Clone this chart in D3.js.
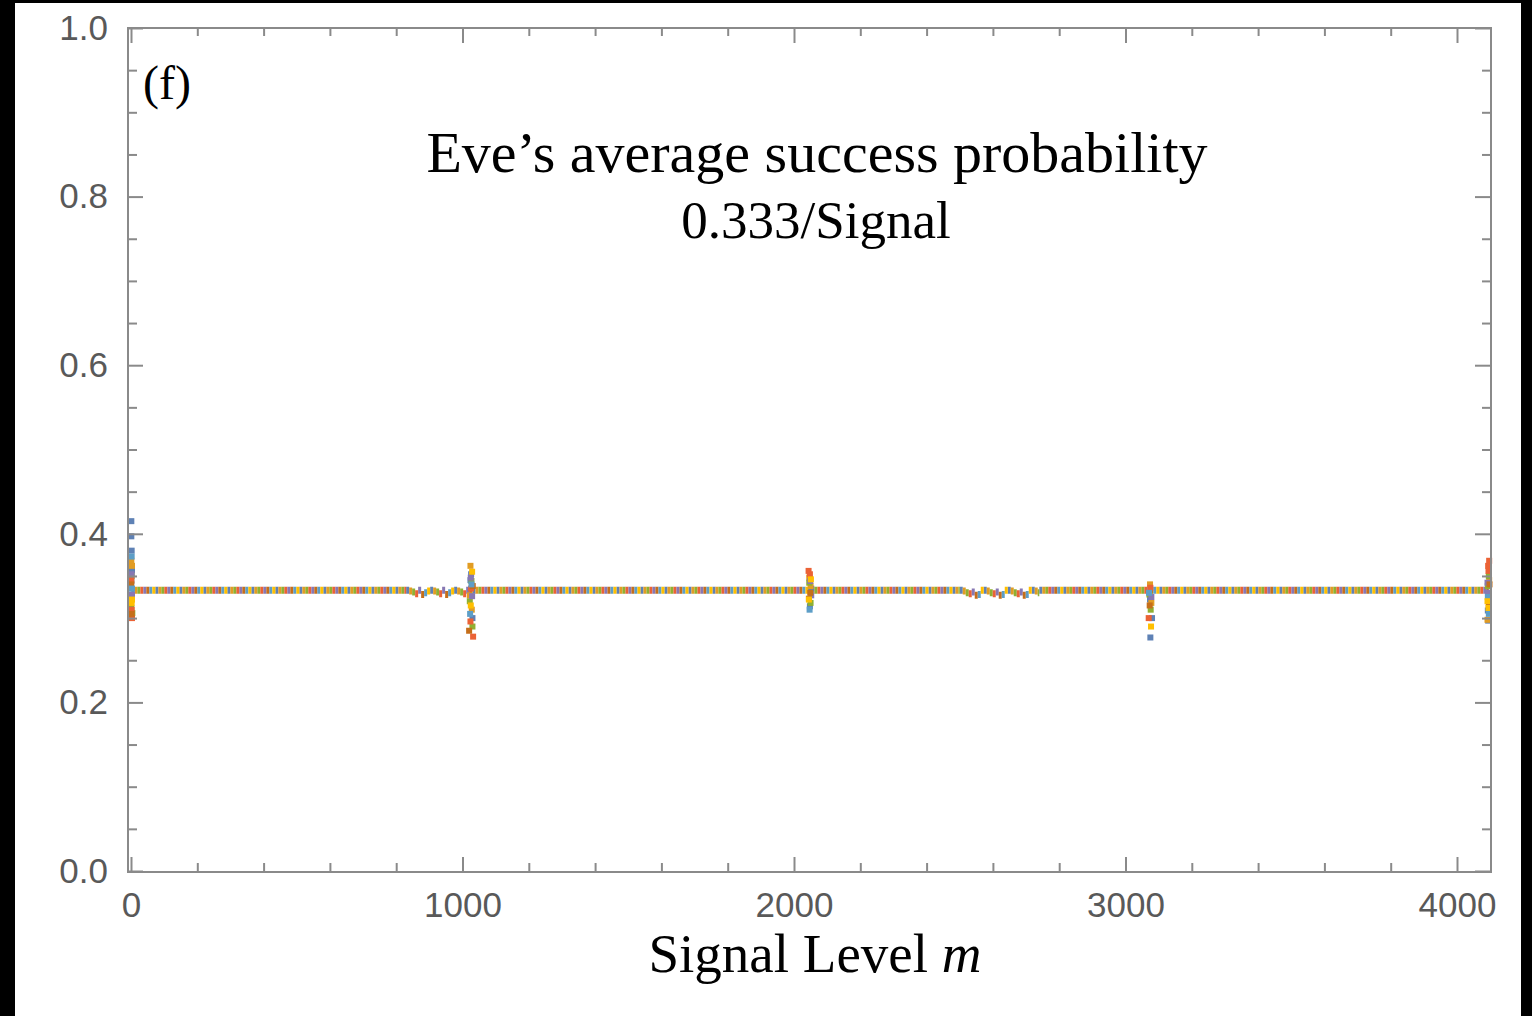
<!DOCTYPE html>
<html lang="en">
<head>
    <meta charset="UTF-8">
    <title>Eve success probability</title>
    <script src="https://d3js.org/d3.v7.min.js"></script>
    <style>
        * {
            padding: 0;
            margin: 0;
        }

        body {
            background: #000;
            width: 1532px;
            height: 1016px;
            overflow: hidden;
        }

        .serif {
            font-family: "Liberation Serif", "Times New Roman", serif;
            fill: #000;
        }

        .tick text {
            font-family: "Liberation Sans", Arial, sans-serif;
            font-size: 35px;
            fill: #595959;
        }

        .tick line {
            stroke: #8a8a8a;
            stroke-width: 2;
        }
    </style>
</head>

<body>
    <div class="context"></div>
    <script>
        // x ticks (signal level m) and y ticks (probability)
        const xMajor = [0, 1000, 2000, 3000, 4000];
        const xMinor = [200, 400, 600, 800, 1200, 1400, 1600, 1800, 2200, 2400, 2600, 2800, 3200, 3400, 3600, 3800];
        const yMajor = [0.0, 0.2, 0.4, 0.6, 0.8, 1.0];
        const yMinor = [0.05, 0.1, 0.15, 0.25, 0.3, 0.35, 0.45, 0.5, 0.55, 0.65, 0.7, 0.75, 0.85, 0.9, 0.95];

        // flat stretches of the curves: [from m, to m]
        const runs = [[1, 830], [830, 1030], [1030, 2500], [2500, 2740], [2740, 4096]];
        // value of each series on each stretch
        const runValues = [
            [0.333, 0.333, 0.333, 0.333, 0.333],
            [0.333, 0.332, 0.333, 0.332, 0.333],
            [0.333, 0.331, 0.333, 0.330, 0.333],
            [0.333, 0.329, 0.333, 0.329, 0.333],
            [0.333, 0.333, 0.333, 0.331, 0.333],
            [0.333, 0.328, 0.333, 0.327, 0.333],
            [0.333, 0.330, 0.333, 0.328, 0.333],
            [0.333, 0.332, 0.333, 0.333, 0.333]
        ];
        // scattered points near m = 0, 1024, 2048, 3072, 4096: [m, p]
        const spikes = [
            [[1, 0.415], [1, 0.397], [2, 0.380], [3, 0.357], [1, 0.344], [1024, 0.345], [1030, 0.300], [1026, 0.352], [2052, 0.335], [2048, 0.314], [3075, 0.277], [3080, 0.300], [3074, 0.322], [4093, 0.309], [4094, 0.297], [4095, 0.330]],
            [[3, 0.362], [2, 0.325], [1, 0.368], [1024, 0.362], [1028, 0.310], [1022, 0.327], [2046, 0.348], [2050, 0.338], [3074, 0.340], [3078, 0.318], [4095, 0.320], [4092, 0.298], [4097, 0.345]],
            [[2, 0.350], [4, 0.306], [1, 0.312], [1022, 0.320], [1030, 0.290], [1027, 0.344], [2050, 0.318], [2046, 0.342], [3076, 0.310], [3072, 0.328], [4096, 0.350], [4093, 0.338]],
            [[1, 0.345], [3, 0.300], [2, 0.310], [1026, 0.335], [1032, 0.278], [1024, 0.296], [2044, 0.356], [2048, 0.352], [3070, 0.300], [3075, 0.336], [4097, 0.368], [4095, 0.356], [4094, 0.362]],
            [[2, 0.352], [3, 0.328], [1025, 0.348], [1029, 0.326], [2052, 0.327], [2049, 0.344], [3078, 0.325], [4094, 0.330], [4092, 0.342]],
            [[1, 0.340], [2, 0.305], [1020, 0.285], [1031, 0.338], [2049, 0.330], [2045, 0.323], [3073, 0.315], [4098, 0.340], [4096, 0.316]],
            [[3, 0.335], [2, 0.373], [1027, 0.340], [1023, 0.305], [2047, 0.310], [3071, 0.330], [4093, 0.325], [4096, 0.305]],
            [[2, 0.318], [3, 0.322], [1029, 0.355], [1025, 0.315], [2045, 0.322], [2051, 0.346], [3077, 0.290], [4092, 0.320], [4095, 0.312]]
        ];
        const colors = ["#5E81B5", "#E19C24", "#8FB032", "#EB6235", "#8778B3", "#C56E1A", "#5D9EC7", "#FFBF00"];

        const W = 1532, H = 1016;
        const pLeft = 128, pRight = 1491, pTop = 28, pBottom = 872;

        const svg = d3.select(".context").append("svg")
            .attr("width", W)
            .attr("height", H);

        svg.append("rect")
            .attr("x", 15).attr("y", 3)
            .attr("width", 1506).attr("height", H - 3)
            .attr("fill", "#fff");

        const x = d3.scaleLinear().domain([0, 4000]).range([131, 1457]);
        const y = d3.scaleLinear().domain([0, 1]).range([871, 28]);

        // flat stretches, drawn as dashed bands so the colours interleave
        const n = colors.length, dash = 3;
        const segs = [];
        runValues.forEach((vals, s) => {
            runs.forEach((r, k) => segs.push({ s: s, m0: r[0], m1: r[1], v: vals[k] }));
        });
        svg.append("g").selectAll("line").data(segs).enter().append("line")
            .attr("x1", d => x(d.m0))
            .attr("x2", d => x(d.m1))
            .attr("y1", d => y(d.v))
            .attr("y2", d => y(d.v))
            .attr("stroke", d => colors[d.s])
            .attr("stroke-width", 7)
            .attr("stroke-dasharray", dash + " " + (dash * (n - 1)))
            .attr("stroke-dashoffset", d => -d.s * dash);

        // scattered points
        const pts = [];
        spikes.forEach((list, s) => list.forEach(p => pts.push({ s: s, m: p[0], v: p[1] })));
        svg.append("g").selectAll("rect").data(pts).enter().append("rect")
            .attr("x", d => x(d.m) - 3)
            .attr("y", d => y(d.v) - 3)
            .attr("width", 6)
            .attr("height", 6)
            .attr("fill", d => colors[d.s]);

        // frame
        svg.append("rect")
            .attr("x", pLeft).attr("y", pTop)
            .attr("width", pRight - pLeft).attr("height", pBottom - pTop)
            .attr("fill", "none")
            .attr("stroke", "#8a8a8a")
            .attr("stroke-width", 2);

        function axis(gen, vals, size, fmt, tx, ty) {
            const g = svg.append("g")
                .attr("transform", "translate(" + tx + "," + ty + ")")
                .call(gen.tickValues(vals).tickSizeInner(size).tickSizeOuter(0).tickPadding(20).tickFormat(fmt));
            g.select(".domain").remove();
            return g;
        }
        const none = () => "";
        axis(d3.axisBottom(x), xMajor, -15, d3.format("d"), 0, pBottom);
        axis(d3.axisBottom(x), xMinor, -9, none, 0, pBottom);
        axis(d3.axisTop(x), xMajor, -15, none, 0, pTop);
        axis(d3.axisTop(x), xMinor, -8, none, 0, pTop);
        axis(d3.axisLeft(y), yMajor, -15, d3.format(".1f"), pLeft, 0);
        axis(d3.axisLeft(y), yMinor, -9, none, pLeft, 0);
        axis(d3.axisRight(y), yMajor, -16, none, pRight, 0);
        axis(d3.axisRight(y), yMinor, -9, none, pRight, 0);

        // texts
        svg.append("text").attr("class", "serif")
            .attr("x", 143).attr("y", 99)
            .attr("font-size", 48)
            .text("(f)");

        svg.append("text").attr("class", "serif")
            .attr("x", 817).attr("y", 172)
            .attr("text-anchor", "middle")
            .attr("font-size", 58)
            .text("Eve\u2019s average success probability");

        svg.append("text").attr("class", "serif")
            .attr("x", 816).attr("y", 238)
            .attr("text-anchor", "middle")
            .attr("font-size", 53)
            .text("0.333/Signal");

        const xl = svg.append("text").attr("class", "serif")
            .attr("x", 815).attr("y", 972)
            .attr("text-anchor", "middle")
            .attr("font-size", 55);
        xl.append("tspan").text("Signal Level ");
        xl.append("tspan").attr("font-style", "italic").text("m");
    </script>
</body>

</html>
